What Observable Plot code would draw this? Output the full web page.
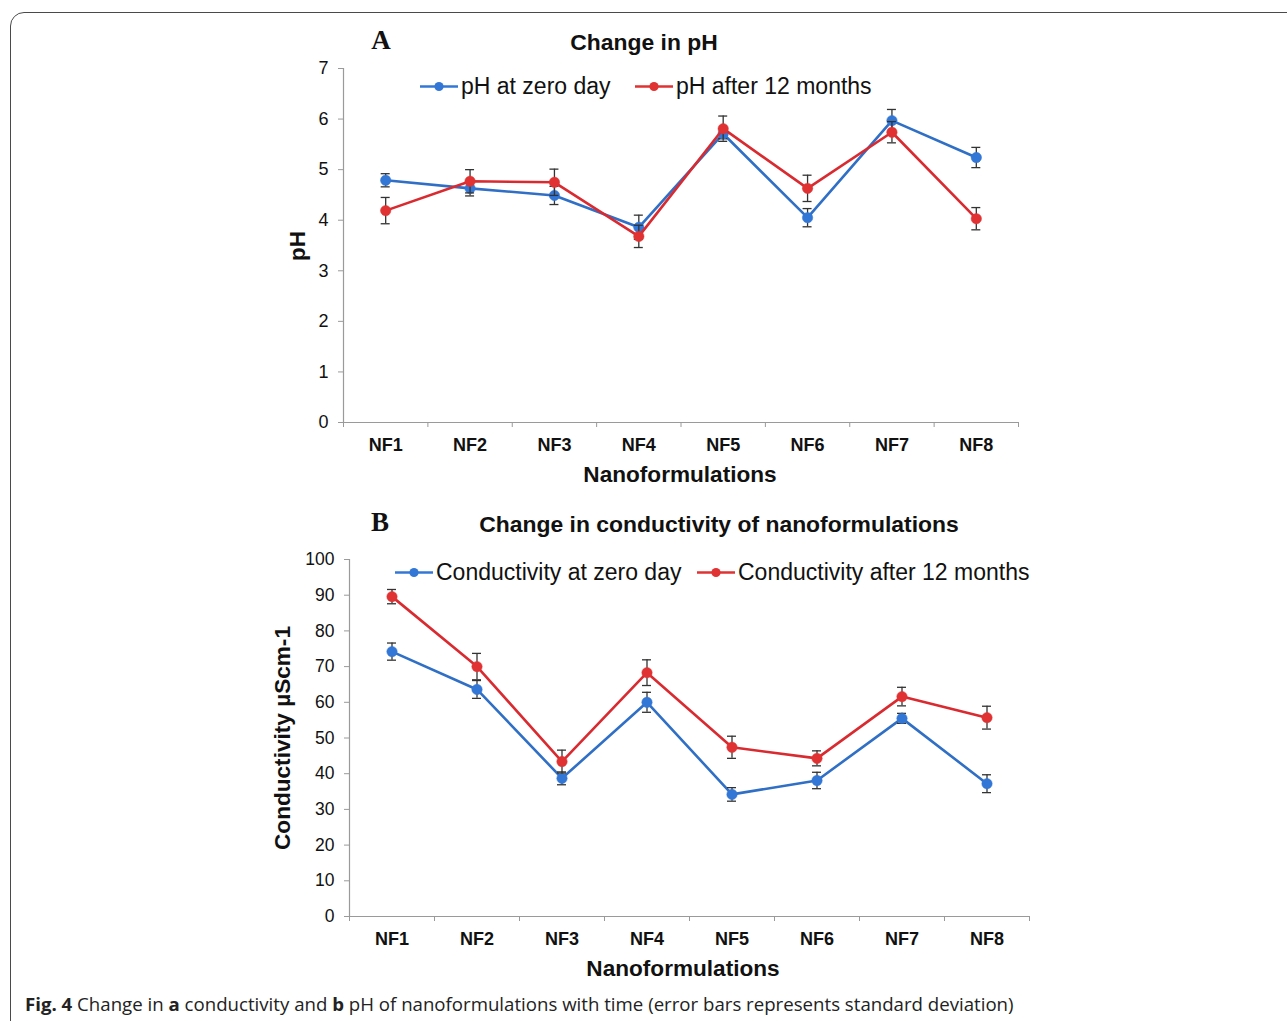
<!DOCTYPE html>
<html>
<head>
<meta charset="utf-8">
<script src="https://cdn.jsdelivr.net/npm/d3@7"></script>
<script src="https://cdn.jsdelivr.net/npm/@observablehq/plot@0.6"></script>
<style>
  body { margin: 0; background: #fff; }
  #page { position: relative; width: 1287px; height: 1021px; overflow: hidden; background: #fff; font-family: "Liberation Sans", Arial, sans-serif; color: #111; }
  .frame { position: absolute; left: 10px; top: 12px; width: 1320px; height: 1060px; border: 1.5px solid #4a4a4a; border-radius: 14px; box-sizing: border-box; }
  .t { position: absolute; transform: translate(-50%, -50%); white-space: nowrap; }
  .panel { position: absolute; left: 0; }
  .leg { position: absolute; display: flex; align-items: center; transform: translateY(-50%); white-space: nowrap; font-size: 23px; }
  .leg svg { margin-right: 3px; }
  .cap { position: absolute; left: 25px; top: 1003px; transform: translateY(-50%); font-family: "Open Sans", sans-serif; font-size: 18.65px; color: #222; white-space: nowrap; }
</style>
</head>
<body>
<div id="page">
  <div class="frame"></div>

  <div class="t" style="left:381px;top:40px;font-family:'Liberation Serif',serif;font-weight:bold;font-size:27px;">A</div>
  <div class="t" style="left:644px;top:42px;font-weight:bold;font-size:22.9px;">Change in pH</div>
  <div id="legA1" class="leg" style="left:420px;top:86px;"></div>
  <div id="legA2" class="leg" style="left:635px;top:86px;"></div>
  <div class="t" style="left:298px;top:246px;font-weight:bold;font-size:22.5px;transform:translate(-50%,-50%) rotate(-90deg);">pH</div>
  <div class="t" style="left:680px;top:475px;font-weight:bold;font-size:22.6px;">Nanoformulations</div>

  <div class="t" style="left:380px;top:522px;font-family:'Liberation Serif',serif;font-weight:bold;font-size:27px;">B</div>
  <div class="t" style="left:719px;top:524px;font-weight:bold;font-size:22.9px;">Change in conductivity of nanoformulations</div>
  <div id="legB1" class="leg" style="left:395px;top:572px;"></div>
  <div id="legB2" class="leg" style="left:697px;top:572px;"></div>
  <div class="t" style="left:283px;top:738px;font-weight:bold;font-size:22.6px;transform:translate(-50%,-50%) rotate(-90deg);">Conductivity µScm-1</div>
  <div class="t" style="left:683px;top:969px;font-weight:bold;font-size:22.6px;">Nanoformulations</div>

  <div id="panelA" class="panel" style="top:0px;"></div>
  <div id="panelB" class="panel" style="top:500px;"></div>

  <div class="cap"><b>Fig. 4</b> Change in <b>a</b> conductivity and <b>b</b> pH of nanoformulations with time (error bars represents standard deviation)</div>
</div>

<script>
// ---- data ----
const categories = ["NF1", "NF2", "NF3", "NF4", "NF5", "NF6", "NF7", "NF8"];

const phZero   = [4.79, 4.63, 4.49, 3.86, 5.71, 4.05, 5.97, 5.24];
const phZeroSd = [0.13, 0.15, 0.18, 0.24, 0.10, 0.18, 0.22, 0.20];
const ph12     = [4.19, 4.77, 4.75, 3.68, 5.81, 4.63, 5.74, 4.03];
const ph12Sd   = [0.26, 0.23, 0.26, 0.22, 0.25, 0.26, 0.21, 0.22];

const condZero   = [74.2, 63.6, 38.7, 60.0, 34.2, 38.1, 55.5, 37.2];
const condZeroSd = [2.4, 2.5, 1.8, 2.8, 1.9, 2.3, 1.4, 2.5];
const cond12     = [89.6, 70.0, 43.4, 68.3, 47.4, 44.3, 61.6, 55.7];
const cond12Sd   = [2.0, 3.7, 3.2, 3.6, 3.1, 2.1, 2.6, 3.2];

const phTicks   = [0, 1, 2, 3, 4, 5, 6, 7];
const condTicks = [0, 10, 20, 30, 40, 50, 60, 70, 80, 90, 100];

const legendA = ["pH at zero day", "pH after 12 months"];
const legendB = ["Conductivity at zero day", "Conductivity after 12 months"];

// ---- styles ----
const BLUE = "#3377d6", BLUE_LINE = "#2f6fc6";
const RED = "#e03232", RED_LINE = "#d92a30";
const AXIS = "#9a9a9a";

function rows(values, sds) {
  return categories.map((c, i) => ({cat: c, x: i + 0.5, v: values[i], sd: sds[i]}));
}

function seriesMarks(data, fill, stroke) {
  return [
    Plot.line(data, {x: "x", y: "v", stroke, strokeWidth: 2.6}),
    Plot.ruleX(data, {x: "x", y1: d => d.v - d.sd, y2: d => d.v + d.sd, stroke: "#333", strokeWidth: 1.3}),
    Plot.ruleY(data, {y: d => d.v + d.sd, x1: "x", x2: "x", insetLeft: -4.5, insetRight: -4.5, stroke: "#333", strokeWidth: 1.3}),
    Plot.ruleY(data, {y: d => d.v - d.sd, x1: "x", x2: "x", insetLeft: -4.5, insetRight: -4.5, stroke: "#333", strokeWidth: 1.3}),
    Plot.dot(data, {x: "x", y: "v", r: 5.2, fill, stroke: fill, strokeWidth: 0.5})
  ];
}

function panel({ymax, yticks, mLeft, mRight, mTop, mBottom, height, zero, twelve, tickFont}) {
  const boundaries = d3.range(0, categories.length + 1);
  const centers = categories.map((c, i) => i + 0.5);
  return Plot.plot({
    width: 1287,
    height,
    marginLeft: mLeft,
    marginRight: mRight,
    marginTop: mTop,
    marginBottom: mBottom,
    x: {domain: [0, categories.length]},
    y: {domain: [0, ymax]},
    style: {fontFamily: "'Liberation Sans', Arial, sans-serif", color: "#111", background: "transparent", overflow: "visible"},
    marks: [
      Plot.ruleX([0], {stroke: AXIS, strokeWidth: 1.2}),
      Plot.ruleY([0], {stroke: AXIS, strokeWidth: 1.2}),
      Plot.axisY({ticks: yticks, tickSize: 5, tickFormat: () => "", stroke: AXIS, label: null}),
      Plot.axisY({ticks: yticks, tickSize: 0, tickPadding: 15, tickFormat: d => String(d), fontSize: tickFont, label: null}),
      Plot.axisX({ticks: boundaries, tickSize: 5, tickFormat: () => "", stroke: AXIS, label: null}),
      Plot.axisX({ticks: centers, tickSize: 0, tickPadding: 16, tickFormat: d => categories[Math.floor(d)], fontSize: 18, fontWeight: "bold", label: null}),
      ...seriesMarks(zero, BLUE, BLUE_LINE),
      ...seriesMarks(twelve, RED, RED_LINE)
    ]
  });
}

document.getElementById("panelA").append(panel({
  ymax: 7, yticks: phTicks, mLeft: 343, mRight: 269, mTop: 68, mBottom: 78, height: 500,
  zero: rows(phZero, phZeroSd), twelve: rows(ph12, ph12Sd), tickFont: 18
}));
document.getElementById("panelB").append(panel({
  ymax: 100, yticks: condTicks, mLeft: 349, mRight: 258, mTop: 59, mBottom: 84, height: 500,
  zero: rows(condZero, condZeroSd), twelve: rows(cond12, cond12Sd), tickFont: 17.5
}));

// legends
function legendItem(id, label, color) {
  const el = document.getElementById(id);
  el.innerHTML = `<svg width="38" height="12"><line x1="0" y1="6" x2="38" y2="6" stroke="${color}" stroke-width="2.6"/><circle cx="19" cy="6" r="4.6" fill="${color}"/></svg><span>${label}</span>`;
}
legendItem("legA1", legendA[0], BLUE);
legendItem("legA2", legendA[1], RED);
legendItem("legB1", legendB[0], BLUE);
legendItem("legB2", legendB[1], RED);
</script>
</body>
</html>
